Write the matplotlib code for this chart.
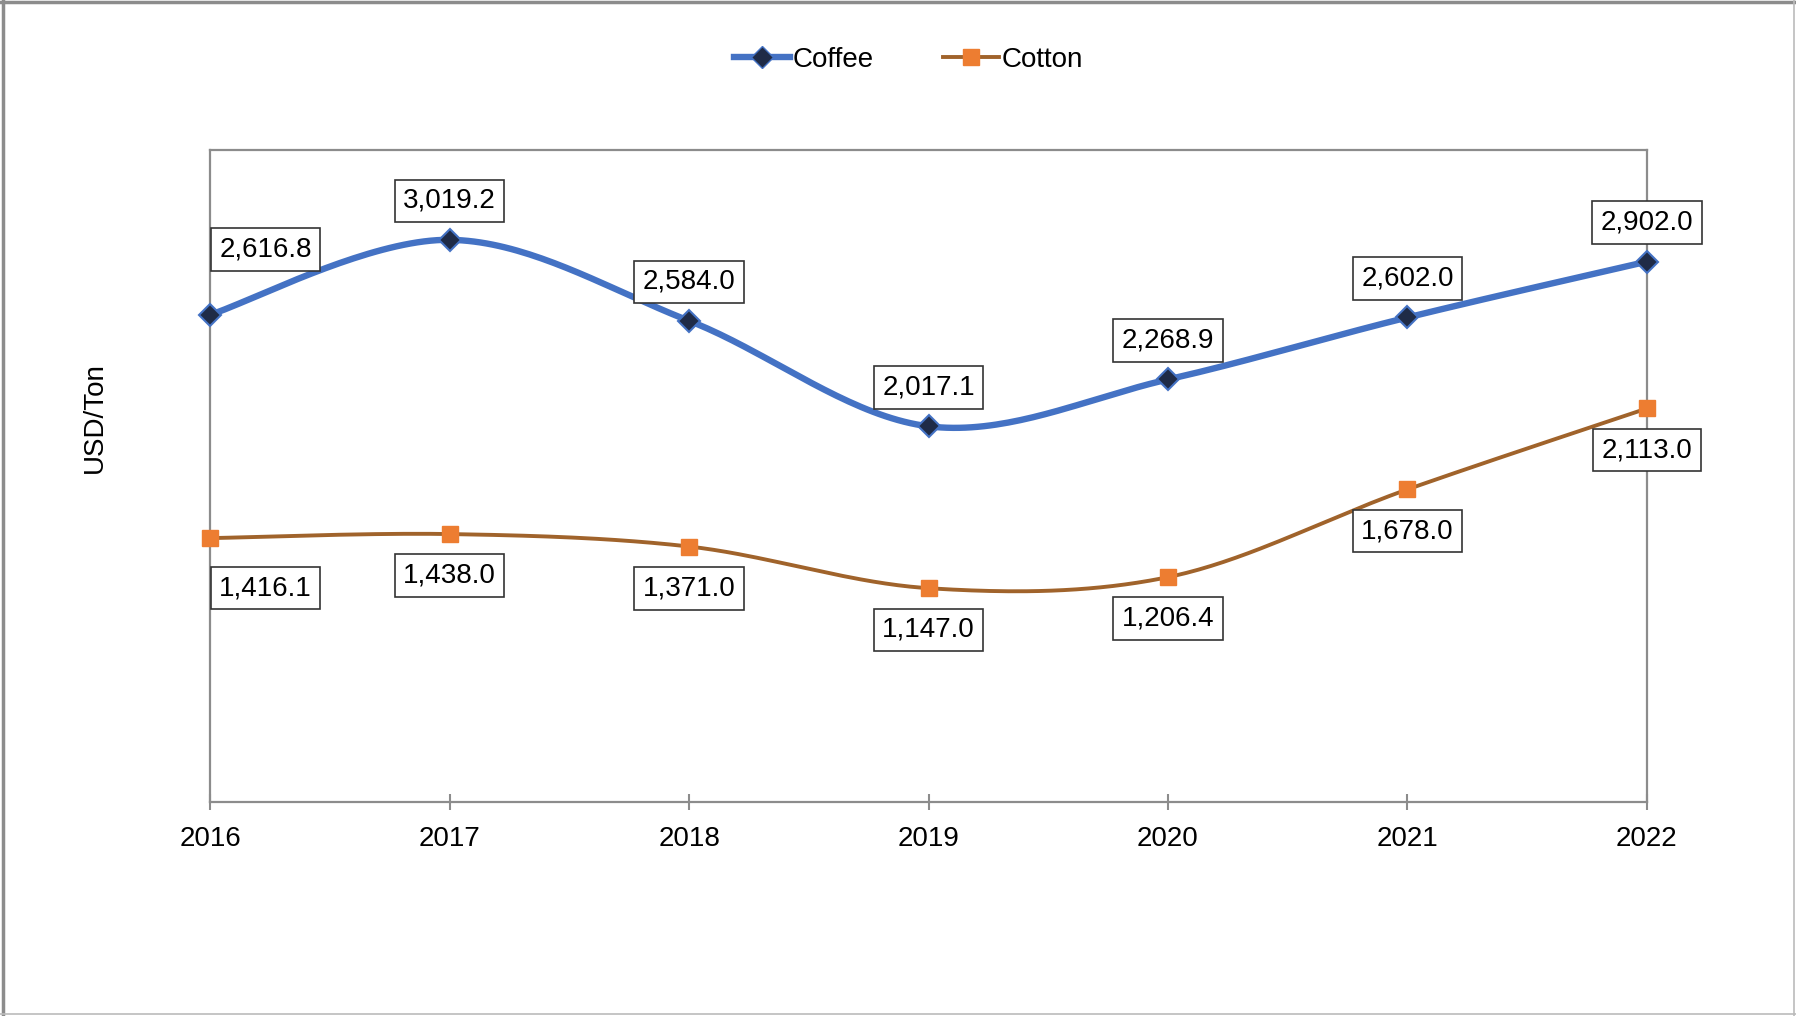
import numpy as np
import matplotlib.pyplot as plt
from matplotlib.lines import Line2D

years = [2016, 2017, 2018, 2019, 2020, 2021, 2022]
coffee = [2616.8, 3019.2, 2584.0, 2017.1, 2268.9, 2602.0, 2902.0]
cotton = [1416.1, 1438.0, 1371.0, 1147.0, 1206.4, 1678.0, 2113.0]

plt.rcParams['font.family'] = ['Liberation Sans', 'DejaVu Sans']


def smooth(x, y, n=40):
    # Catmull-Rom spline through the points, like a spreadsheet "smoothed line"
    x = np.asarray(x, float)
    y = np.asarray(y, float)
    px = np.concatenate([[x[0]], x, [x[-1]]])
    py = np.concatenate([[y[0]], y, [y[-1]]])
    xs, ys = [], []
    t = np.linspace(0, 1, n)
    for i in range(1, len(px) - 2):
        p0, p1, p2, p3 = px[i - 1], px[i], px[i + 1], px[i + 2]
        q0, q1, q2, q3 = py[i - 1], py[i], py[i + 1], py[i + 2]
        # bezier control points with 1/6 tension
        bx = [p1, p1 + (p2 - p0) / 6, p2 - (p3 - p1) / 6, p2]
        by = [q1, q1 + (q2 - q0) / 6, q2 - (q3 - q1) / 6, q2]
        b = [(1 - t) ** 3, 3 * (1 - t) ** 2 * t, 3 * (1 - t) * t ** 2, t ** 3]
        xs.append(sum(c * w for c, w in zip(bx, b)))
        ys.append(sum(c * w for c, w in zip(by, b)))
    return np.concatenate(xs), np.concatenate(ys)


fig = plt.figure(figsize=(17.96, 10.16), dpi=100)
ax = fig.add_axes([0.117, 0.211, 0.800, 0.641])

idx = np.arange(len(years))

sx, sy = smooth(idx, coffee)
ax.plot(sx, sy, color='#4472C4', lw=4.6, solid_capstyle='round', zorder=3,
        clip_on=False)
ax.plot(idx, coffee, ls='none', marker='D', ms=11, mfc='#1F2B47',
        mec='#4472C4', mew=1.5, zorder=4, clip_on=False)

sx, sy = smooth(idx, cotton)
ax.plot(sx, sy, color='#A0632B', lw=2.8, zorder=3, clip_on=False)
ax.plot(idx, cotton, ls='none', marker='s', ms=12, mfc='#ED7D31',
        mec='#ED7D31', zorder=4, clip_on=False)

box = dict(boxstyle='square,pad=0.3', fc='white', ec='#333333', lw=1.2)
for i, v in enumerate(coffee):
    dx, dy = (40, 47) if i == 0 else (0, 28)
    ax.annotate(f'{v:,.1f}', (i, v), xytext=(dx, dy), textcoords='offset points',
                ha='center', va='center', fontsize=20, bbox=box, zorder=5)
for i, v in enumerate(cotton):
    dx, dy = (40, -36) if i == 0 else (0, -30)
    ax.annotate(f'{v:,.1f}', (i, v), xytext=(dx, dy), textcoords='offset points',
                ha='center', va='center', fontsize=20, bbox=box, zorder=5)

ax.set_xlim(0, len(years) - 1)
ax.set_ylim(0, 3500)
ax.set_xticks(idx)
ax.set_xticklabels([str(y) for y in years], fontsize=20)
ax.set_yticks([])
ax.tick_params(axis='x', direction='inout', length=11, width=1.5,
               color='#8C8C8C', pad=12)
for s in ax.spines.values():
    s.set_color('#8C8C8C')
    s.set_linewidth(1.6)

fig.text(0.053, 0.589, 'USD/Ton', rotation=90, ha='center', va='center',
         fontsize=20)

handles = [
    Line2D([], [], color='#4472C4', lw=4.6, marker='D', ms=11,
           mfc='#1F2B47', mec='#4472C4'),
    Line2D([], [], color='#A0632B', lw=2.8, marker='s', ms=12,
           mfc='#ED7D31', mec='#ED7D31'),
]
fig.legend(handles, ['Coffee', 'Cotton'], loc='center', ncol=2,
           bbox_to_anchor=(0.506, 0.941), frameon=False, fontsize=20,
           handlelength=2.0, handletextpad=0.1, columnspacing=2.5)

# outer frame
fig.add_artist(Line2D([0.0015, 0.0015], [0, 1], color='#8C8C8C', lw=2.5,
                      transform=fig.transFigure))
fig.add_artist(Line2D([0, 1], [0.998, 0.998], color='#8C8C8C', lw=2.5,
                      transform=fig.transFigure))
fig.add_artist(Line2D([0.999, 0.999], [0, 1], color='#BBBBBB', lw=1.2,
                      transform=fig.transFigure))
fig.add_artist(Line2D([0, 1], [0.0015, 0.0015], color='#BBBBBB', lw=1.2,
                      transform=fig.transFigure))

fig.savefig('out.png', dpi=100, facecolor='white')
